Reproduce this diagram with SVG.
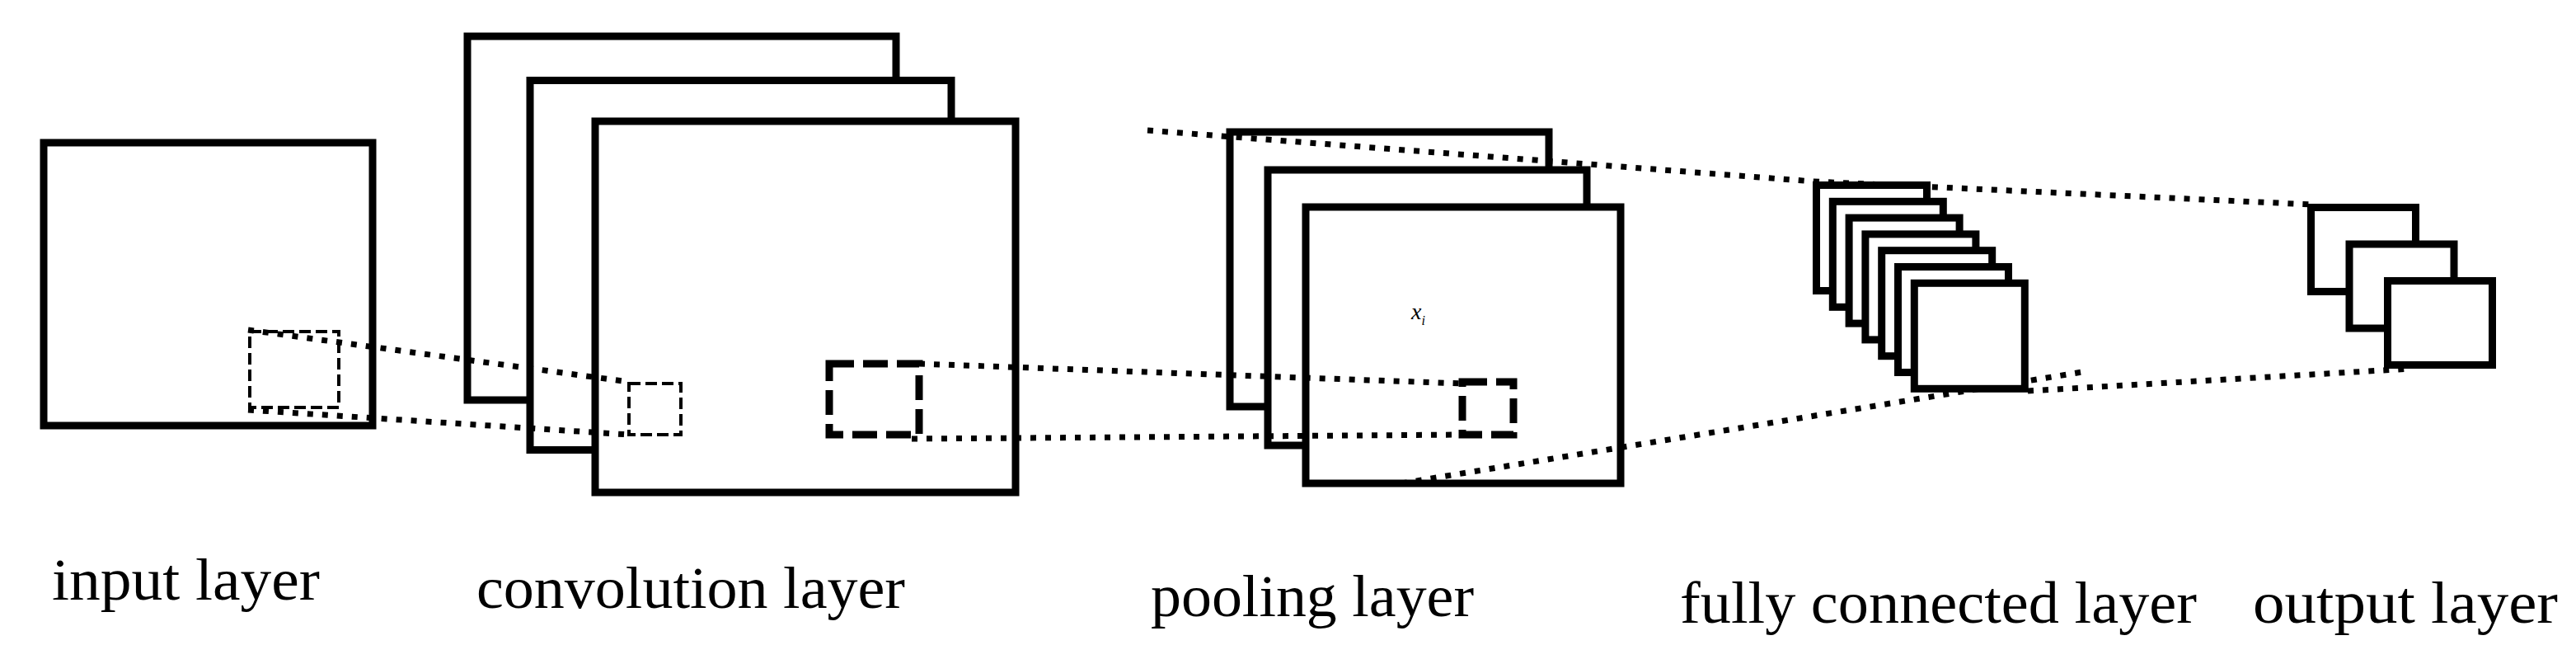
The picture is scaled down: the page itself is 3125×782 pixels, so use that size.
<svg xmlns="http://www.w3.org/2000/svg" width="3125" height="782" viewBox="0 0 3125 782">
<style>
.box{fill:#fff;stroke:#000;stroke-width:9}
.dashthin{fill:none;stroke:#000;stroke-width:4;stroke-dasharray:14 6}
.dashthick{fill:none;stroke:#000;stroke-width:9;stroke-dasharray:30 11}
.dot{fill:none;stroke:#000;stroke-width:7;stroke-dasharray:7 11}
.lbl{font-family:"Liberation Serif","Times New Roman",serif;font-size:72px;fill:#000}
.var{font-family:"Liberation Serif","Times New Roman",serif;font-style:italic;fill:#000}
</style>
<rect width="3125" height="782" fill="#fff"/>
<g id="input-layer">
<rect class="box" x="53" y="173" width="399" height="343"/>
<rect class="dashthin" x="303" y="402" width="108" height="92"/>
</g>
<g id="convolution-layer">
<rect class="box" x="567" y="44" width="520" height="441"/>
<rect class="box" x="643" y="97.5" width="511" height="448"/>
<rect class="box" x="722" y="147" width="510" height="450"/>
<rect class="dashthin" x="763" y="465" width="63" height="62"/>
<rect class="dashthick" x="1006" y="441" width="109" height="86"/>
</g>
<g id="pooling-layer">
<rect class="box" x="1492" y="160" width="387" height="333"/>
<rect class="box" x="1538" y="206" width="387" height="334"/>
<rect class="box" x="1584" y="251" width="382" height="335"/>
<rect class="dashthick" x="1774" y="463" width="62" height="64"/>
<text class="var" x="1712" y="387" font-size="28">x<tspan font-size="16" dy="7">i</tspan></text>
</g>
<g id="connectors">
<line class="dot" x1="301" y1="400" x2="763" y2="463"/>
<line class="dot" x1="301" y1="497" x2="763" y2="527"/>
<line class="dot" x1="1115" y1="441" x2="1774" y2="465"/>
<line class="dot" x1="1106" y1="532" x2="1774" y2="527"/>
<line class="dot" x1="1392" y1="158" x2="2200" y2="220"/>
<line class="dot" x1="2200" y1="220" x2="2805" y2="248"/>
<line class="dot" x1="1700" y1="586" x2="2532" y2="450"/>
<line class="dot" x1="2460" y1="474" x2="2925" y2="447"/>
</g>
<g id="fully-connected-layer">
<rect class="box" x="2203.5" y="224.5" width="134" height="128"/>
<rect class="box" x="2223.3" y="244.3" width="134" height="128"/>
<rect class="box" x="2243.1" y="264.1" width="134" height="128"/>
<rect class="box" x="2262.9" y="283.9" width="134" height="128"/>
<rect class="box" x="2282.7" y="303.7" width="134" height="128"/>
<rect class="box" x="2302.5" y="323.5" width="134" height="128"/>
<rect class="box" x="2322.3" y="343.3" width="134" height="128"/>
</g>
<g id="output-layer">
<rect class="box" x="2803.5" y="251.5" width="127" height="102"/>
<rect class="box" x="2850" y="296" width="127" height="102"/>
<rect class="box" x="2896.5" y="340.5" width="127" height="102"/>
</g>
<g id="labels">
<text class="lbl" x="63" y="727" textLength="325" lengthAdjust="spacingAndGlyphs">input layer</text>
<text class="lbl" x="578" y="737" textLength="520" lengthAdjust="spacingAndGlyphs">convolution layer</text>
<text class="lbl" x="1396" y="747" textLength="392" lengthAdjust="spacingAndGlyphs">pooling layer</text>
<text class="lbl" x="2038" y="755" textLength="627" lengthAdjust="spacingAndGlyphs">fully connected layer</text>
<text class="lbl" x="2733" y="755" textLength="370" lengthAdjust="spacingAndGlyphs">output layer</text>
</g>
</svg>
